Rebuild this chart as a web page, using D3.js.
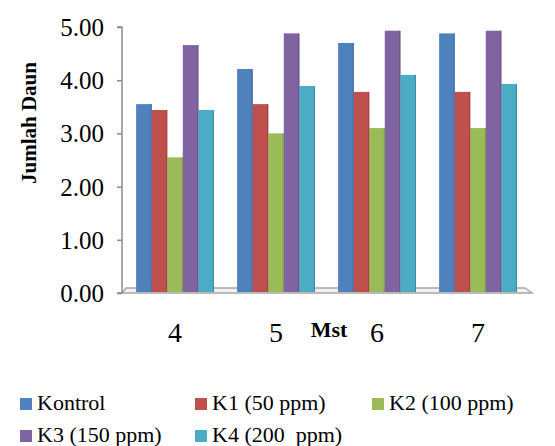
<!DOCTYPE html>
<html>
<head>
<meta charset="utf-8">
<script src="https://cdn.jsdelivr.net/npm/d3@7"></script>
<style>
  body { margin: 0; background: #fff; }
</style>
</head>
<body>
<svg id="chart" width="555" height="446"></svg>
<script>
// data
var categories = ["4", "5", "6", "7"];
var seriesNames = ["Kontrol", "K1 (50 ppm)", "K2 (100 ppm)", "K3 (150 ppm)", "K4 (200  ppm)"];
var kontrol = [3.55, 4.21, 4.70, 4.88];
var k1 = [3.44, 3.55, 3.78, 3.78];
var k2 = [2.55, 3.00, 3.10, 3.10];
var k3 = [4.66, 4.88, 4.93, 4.93];
var k4 = [3.44, 3.89, 4.10, 3.93];
var yTicks = [0, 1, 2, 3, 4, 5];
var colors = ["#4F81BD", "#C0504D", "#9BBB59", "#8064A2", "#4BACC6"];

var allSeries = [kontrol, k1, k2, k3, k4];
var serif = "'Liberation Serif', 'Times New Roman', serif";

var svg = d3.select("#chart").attr("font-family", serif);

var x0 = d3.scaleBand().domain(categories).range([124.5, 528.5])
    .paddingInner(0.23).paddingOuter(0.115);
var x1 = d3.scaleBand().domain(d3.range(seriesNames.length)).range([0, x0.bandwidth()]);
var y = d3.scaleLinear().domain([0, 5]).range([293, 27]);

// floor (3d look)
svg.append("path")
    .attr("d", "M122," + y(0) + " L532," + y(0) + " L525," + (y(0) - 5) + " L126," + (y(0) - 5) + " Z")
    .attr("fill", "#f2f2f2")
    .attr("stroke", "#a6a6a6")
    .attr("stroke-width", 1.5);

// y axis
var yAxis = d3.axisLeft(y).tickValues(yTicks).tickFormat(d3.format(".2f")).tickSize(5).tickPadding(13);
var gy = svg.append("g").attr("transform", "translate(122,0)").call(yAxis)
    .attr("font-family", serif).attr("font-size", 25);
gy.select(".domain").attr("stroke", "#8c8c8c").attr("stroke-width", 1.5).attr("d", "M-5," + y(5) + "H0V" + y(0) + "H-5");
gy.selectAll(".tick line").attr("stroke", "#8c8c8c").attr("stroke-width", 1.5);
gy.selectAll(".tick text").attr("fill", "#000").attr("dy", "0.34em");

// bars
var groups = svg.append("g").selectAll("g")
    .data(categories)
    .join("g")
    .attr("transform", function(d) { return "translate(" + x0(d) + ",0)"; });

groups.selectAll("rect")
    .data(function(d, i) { return allSeries.map(function(s, j) { return { s: j, v: s[i] }; }); })
    .join("rect")
    .attr("x", function(d) { return x1(d.s); })
    .attr("y", function(d) { return y(d.v); })
    .attr("width", x1.bandwidth())
    .attr("height", function(d) { return y(0) - 1 - y(d.v); })
    .attr("fill", function(d) { return colors[d.s]; });

// slight dark edge on the right side of each bar
groups.selectAll("line.edge")
    .data(function(d, i) { return allSeries.map(function(s, j) { return { s: j, v: s[i] }; }); })
    .join("line")
    .attr("class", "edge")
    .attr("x1", function(d) { return x1(d.s) + x1.bandwidth() - 0.5; })
    .attr("x2", function(d) { return x1(d.s) + x1.bandwidth() - 0.5; })
    .attr("y1", function(d) { return y(d.v); })
    .attr("y2", y(0) - 1)
    .attr("stroke", function(d) { return d3.color(colors[d.s]).darker(0.6); })
    .attr("stroke-width", 1);

// category labels
svg.append("g").selectAll("text")
    .data(categories)
    .join("text")
    .attr("x", function(d) { return x0(d) + x0.bandwidth() / 2; })
    .attr("y", 342)
    .attr("text-anchor", "middle")
    .attr("font-size", 28)
    .text(function(d) { return d; });

svg.append("text")
    .attr("x", 329)
    .attr("y", 337)
    .attr("text-anchor", "middle")
    .attr("font-size", 22)
    .attr("font-weight", "bold")
    .text("Mst");

svg.append("text")
    .attr("transform", "translate(36,123) rotate(-90)")
    .attr("text-anchor", "middle")
    .attr("font-size", 21)
    .attr("font-weight", "bold")
    .text("Jumlah Daun");

// legend
var legendPos = [[20, 398], [195, 398], [372, 398], [20, 430], [195, 430]];
var legend = svg.append("g").selectAll("g")
    .data(seriesNames)
    .join("g")
    .attr("transform", function(d, i) { return "translate(" + legendPos[i][0] + "," + legendPos[i][1] + ")"; });

legend.append("rect")
    .attr("width", 12).attr("height", 12)
    .attr("fill", function(d, i) { return colors[i]; });

legend.append("text")
    .attr("x", 17)
    .attr("y", 12)
    .attr("font-size", 22)
    .attr("xml:space", "preserve")
    .style("white-space", "pre")
    .text(function(d) { return d; });
</script>
</body>
</html>
